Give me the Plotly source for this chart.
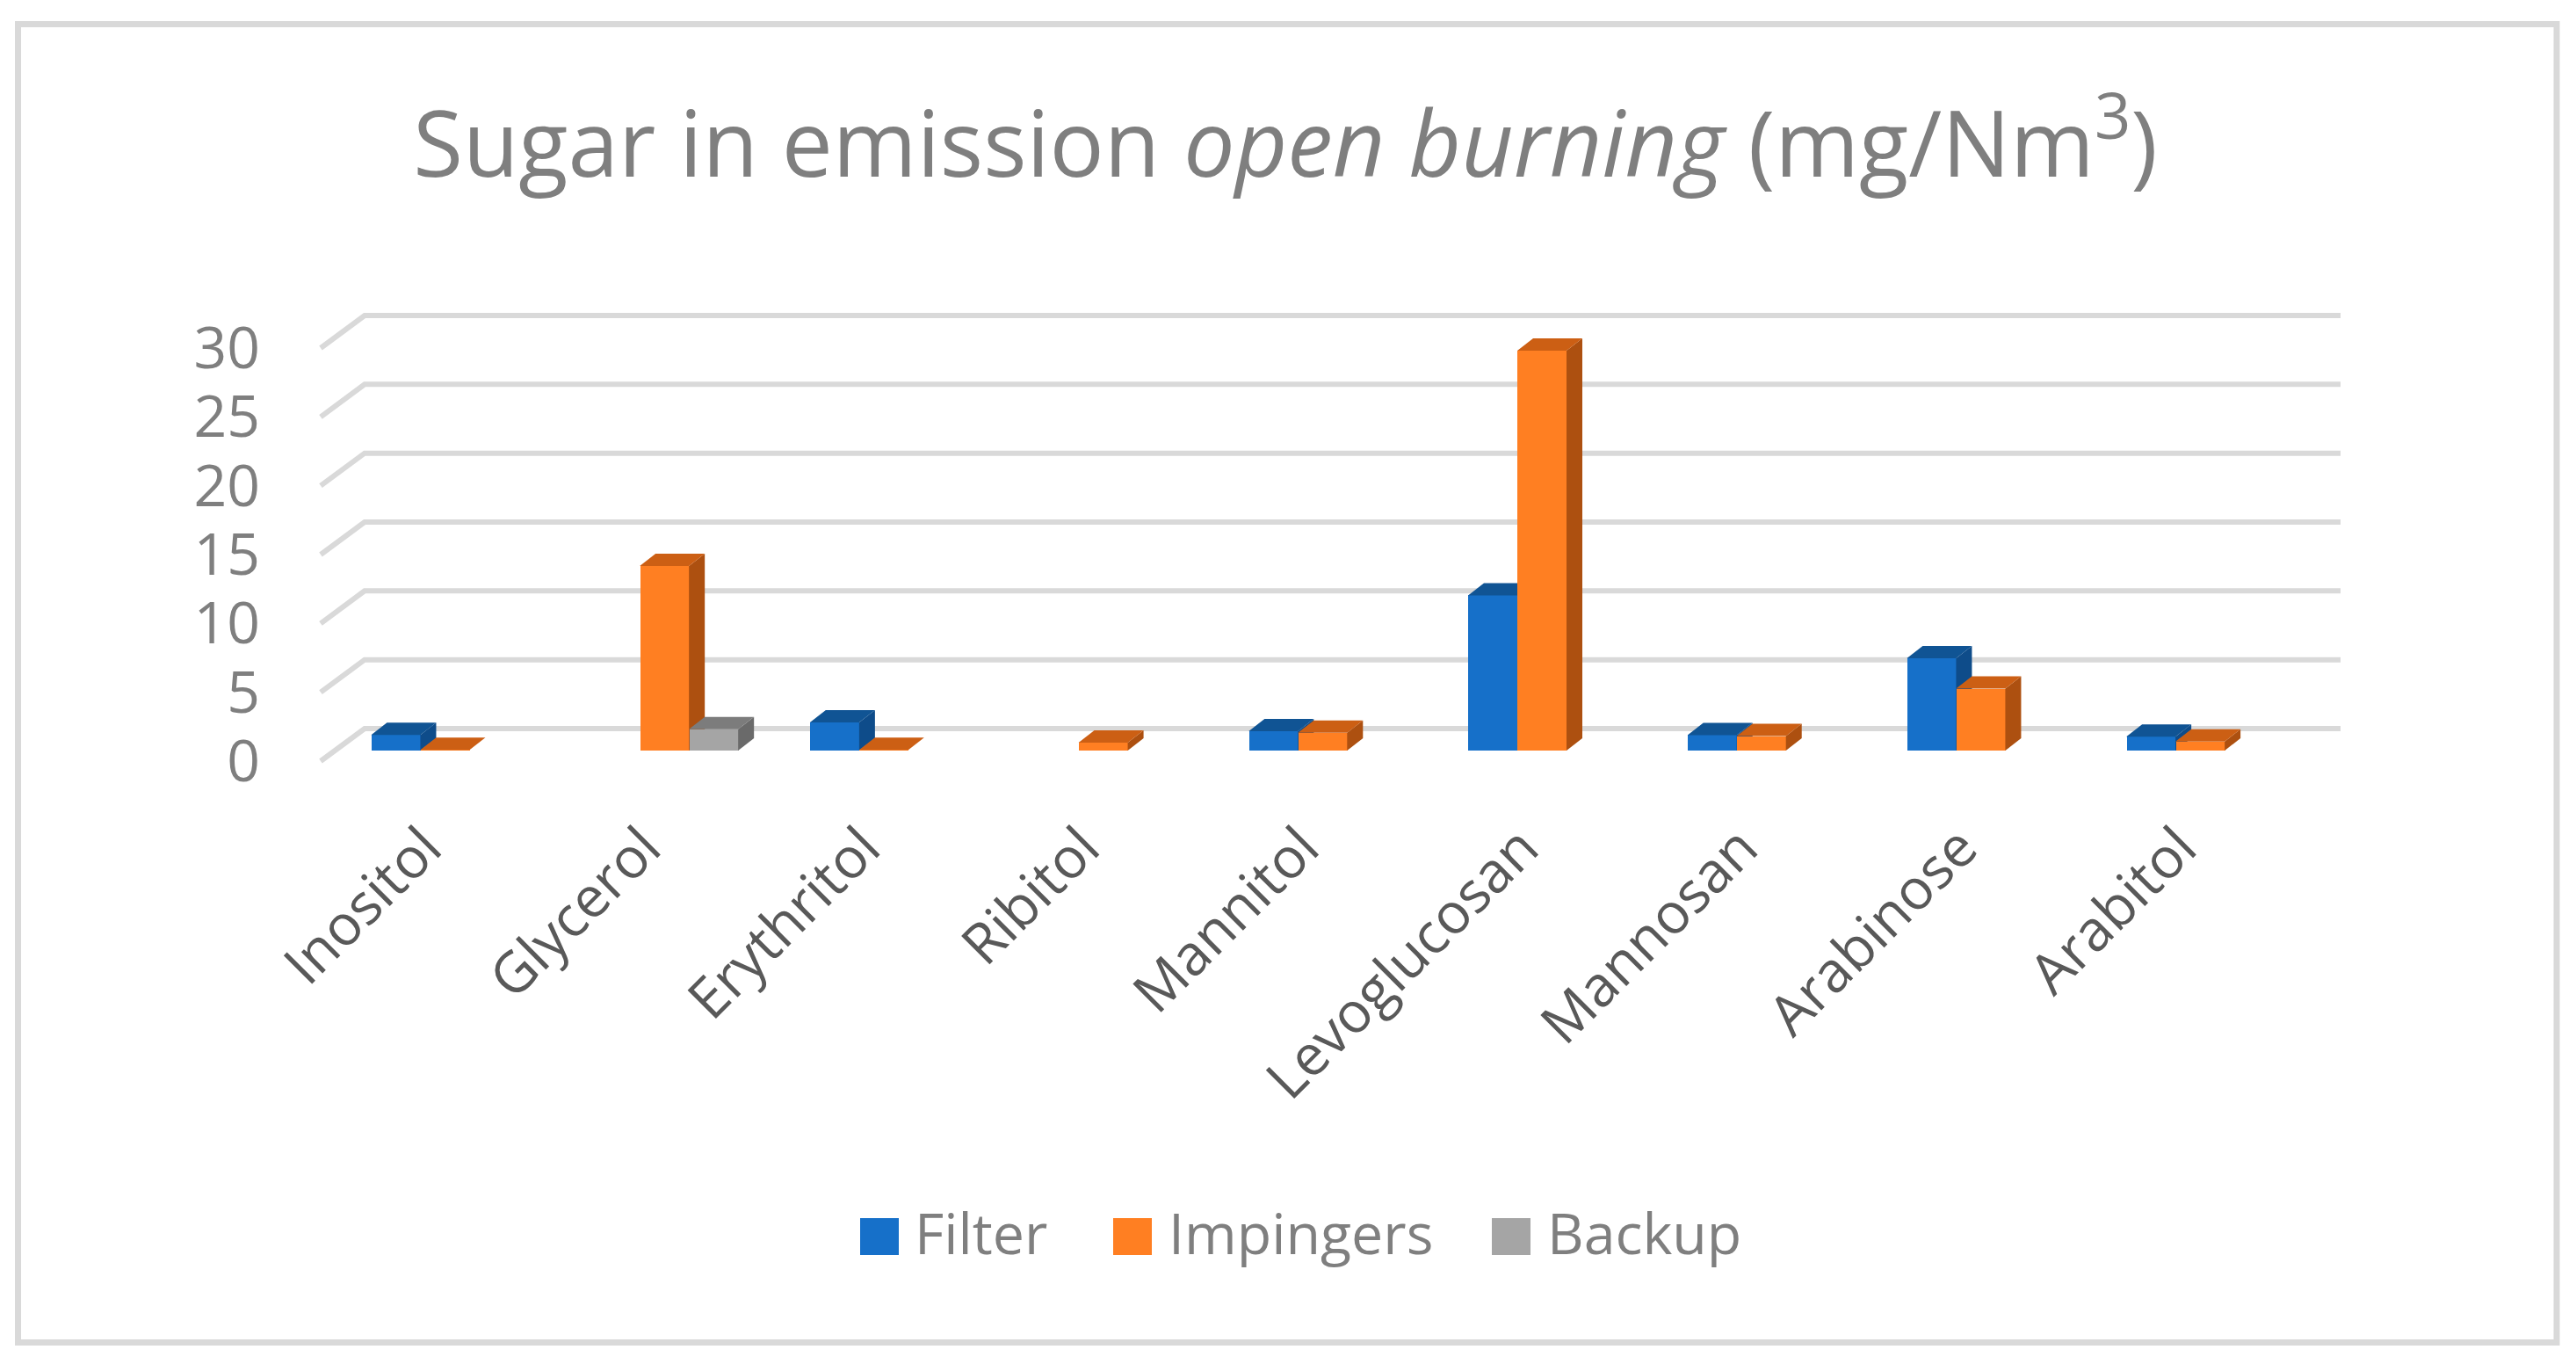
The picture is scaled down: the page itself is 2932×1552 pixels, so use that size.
import plotly.graph_objects as go

categories = ["Inositol", "Glycerol", "Erythritol", "Ribitol", "Mannitol",
              "Levoglucosan", "Mannosan", "Arabinose", "Arabitol"]
filter_values = [1.14, None, 2.05, None, 1.4, 11.27, 1.12, 6.7, 1.0]
impinger_values = [0.05, 13.4, 0.05, 0.57, 1.3, 29.05, 1.05, 4.5, 0.66]
backup_values = [None, 1.55, None, None, None, None, None, None, None]
y_ticks = [0, 5, 10, 15, 20, 25, 30]
series_names = ["Filter", "Impingers", "Backup"]

W, H = 2932, 1552
PX_CAT = 249.7
PX_UNIT = 15.67
GRID = "#D9D9D9"
TXT = "#7F7F7F"
FONT = "Open Sans"

series = [
    (filter_values, "#1670C9", "#105494", "#0E4C8A"),
    (impinger_values, "#FF7F22", "#CC5F14", "#AD5010"),
    (backup_values, "#A5A5A5", "#7C7C7C", "#6A6A6A"),
]

def dom_x(a, b):
    return [a / W, b / W]

def dom_y(top, bottom):
    return [1 - bottom / H, 1 - top / H]

fig = go.Figure()

wall_dx, wall_dy = 50 / PX_CAT, 37 / PX_UNIT
wall_w = 2249 / PX_CAT
gx, gy = [], []
for v in y_ticks:
    gx += [-0.5, -0.5 + wall_dx, -0.5 + wall_dx + wall_w, None]
    gy += [v, v + wall_dy, v + wall_dy, None]
fig.add_trace(go.Scatter(x=gx, y=gy, mode="lines", line=dict(color=GRID, width=6),
                         hoverinfo="skip", showlegend=False, xaxis="x", yaxis="y"))

pad_l, pad_r, pad_b, pad_t = 10, 10, 10, 10
x0_range = -0.5 - pad_l / PX_CAT
x1_range = -0.5 + wall_dx + wall_w + pad_r / PX_CAT
y0_range = -pad_b / PX_UNIT
y1_range = 30 + wall_dy + pad_t / PX_UNIT

bar_w = 56 / PX_CAT
dx, dy = 18 / PX_CAT, 14 / PX_UNIT
idx = list(range(len(categories)))
label_shift = 23 / PX_CAT

for k, (vals, front, top, side) in enumerate(series):
    n = k + 2
    off = (k - 1.5) * bar_w
    sx, sy, tx, ty = [], [], [], []
    for i, v in zip(idx, vals):
        if v is None:
            continue
        l = i + off
        r = l + bar_w
        sx += [r, r + dx, r + dx, r, r, None]
        sy += [0, dy, v + dy, v, 0, None]
        tx += [l, l + dx, r + dx, r, l, None]
        ty += [v, v + dy, v + dy, v, v, None]
    fig.add_trace(go.Bar(x=idx, y=vals, width=bar_w, offset=off, name=series_names[k],
                         marker=dict(color=front, line=dict(width=0)),
                         showlegend=False, xaxis=f"x{n}", yaxis=f"y{n}"))
    for px_, py_, c in ((sx, sy, side), (tx, ty, top)):
        fig.add_trace(go.Scatter(x=px_, y=py_, mode="lines", fill="toself", fillcolor=c,
                                 line=dict(width=0, color=c), hoverinfo="skip",
                                 showlegend=False, xaxis=f"x{n}", yaxis=f"y{n}"))

layout = dict(
    width=W, height=H, margin=dict(l=0, r=0, t=0, b=0),
    paper_bgcolor="white", plot_bgcolor="rgba(0,0,0,0)",
    font=dict(family=FONT, color=TXT),
    title=dict(text="Sugar in emission <i>open burning</i> (mg/Nm<sup>3</sup>)",
               font=dict(family=FONT, size=103.5, color=TXT),
               x=1463 / W, xanchor="center", y=1 - 165 / H, yanchor="middle"),
    xaxis=dict(domain=dom_x(365 - pad_l, 2664 + pad_r), range=[x0_range, x1_range],
               visible=False, fixedrange=True, automargin=False),
    yaxis=dict(domain=dom_y(359 - pad_t, 866 + pad_b), range=[y0_range, y1_range],
               tickmode="array", tickvals=y_ticks, ticktext=[str(t) for t in y_ticks],
               showgrid=False, zeroline=False, showline=False, ticks="",
               ticklabelstandoff=58, tickfont=dict(family=FONT, size=66, color=TXT),
               fixedrange=True, automargin=False),
    showlegend=False, bargap=0,
)
for n in (2, 3, 4):
    layout[f"xaxis{n}"] = dict(
        domain=dom_x(381.6, 2629), range=[-0.5, 8.5], anchor=f"y{n}",
        showgrid=False, zeroline=False, showline=False, ticks="", fixedrange=True,
        tickmode="array", tickvals=[i - label_shift for i in idx], ticktext=categories,
        automargin=False, showticklabels=(n == 2), tickangle=-45, ticklabelstandoff=59,
        tickfont=dict(family=FONT, size=64, color="#595959"))
    layout[f"yaxis{n}"] = dict(
        domain=dom_y(384, 854), range=[0, 30], anchor=f"x{n}",
        visible=False, fixedrange=True, automargin=False)

shapes = [dict(type="rect", xref="paper", yref="paper",
               x0=20.5 / W, x1=2910 / W, y0=1 - 1527.5 / H, y1=1 - 27.5 / H,
               line=dict(color=GRID, width=7), fillcolor="rgba(0,0,0,0)", layer="below")]
annotations = []
legend_pos = [(979, 1039), (1267, 1328), (1698, 1759)]
for (sw, tx_), name, s in zip(legend_pos, series_names, series):
    shapes.append(dict(type="rect", xref="paper", yref="paper",
                       x0=sw / W, x1=(sw + 44) / W, y0=1 - 1428 / H, y1=1 - 1386 / H,
                       line=dict(width=0), fillcolor=s[1]))
    annotations.append(dict(xref="paper", yref="paper", x=tx_ / W, y=1 - 1402 / H,
                            text=name, showarrow=False, xanchor="left", yanchor="middle",
                            font=dict(family=FONT, size=64.5, color=TXT)))
layout["shapes"] = shapes
layout["annotations"] = annotations
fig.update_layout(**layout)

fig.write_html("out.html", config=dict(displayModeBar=False),
               post_script="document.body.style.margin='0';")
